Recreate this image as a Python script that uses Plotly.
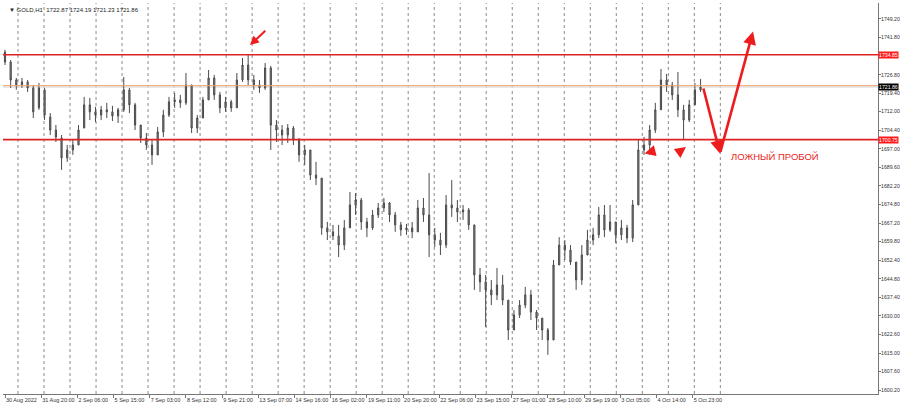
import plotly.graph_objects as go

# ---------------- data (GOLD, H1, one candle = 5 hourly bars) ----------------
open_ = [1735.9, 1731.9, 1724.7, 1722.7, 1723.9, 1721.5, 1713.5, 1720.7, 1709.8, 1704.6,
         1701.4, 1693.4, 1696.6, 1698.6, 1705.4, 1714.7, 1711.9, 1710.6, 1712.7, 1711.9,
         1710.2, 1712.7, 1720.7, 1714.7, 1706.6, 1701.4, 1698.6, 1694.6, 1703.8, 1710.6,
         1715.9, 1716.7, 1715.5, 1722.7, 1705.4, 1709.4, 1716.7, 1725.5, 1718.7, 1713.5,
         1715.9, 1713.5, 1724.7, 1730.7, 1724.7, 1722.7, 1721.5, 1729.5, 1706.6, 1704.6,
         1702.6, 1705.4, 1700.6, 1694.6, 1696.6, 1686.5, 1685.3, 1665.3, 1663.7, 1662.1,
         1658.4, 1665.3, 1674.5, 1676.5, 1667.7, 1665.3, 1670.5, 1673.3, 1675.3, 1670.5,
         1666.5, 1664.5, 1665.3, 1663.7, 1673.3, 1670.5, 1662.5, 1660.4, 1658.4, 1674.5,
         1673.3, 1671.7, 1672.5, 1666.5, 1646.4, 1643.6, 1640.4, 1638.4, 1642.4, 1636.3,
         1624.3, 1630.3, 1634.3, 1638.4, 1631.5, 1629.1, 1624.3, 1620.3, 1650.4, 1658.4,
         1656.4, 1651.6, 1644.4, 1654.4, 1660.4, 1662.5, 1670.5, 1664.5, 1667.7, 1662.5,
         1665.3, 1661.2, 1674.5, 1696.6, 1698.6, 1704.6, 1712.7, 1724.7, 1722.7, 1718.7,
         1712.7, 1708.6, 1714.7, 1720.7]
high = [1736.8, 1732.7, 1725.5, 1725.5, 1724.7, 1722.7, 1723.5, 1721.5, 1711.4, 1706.6,
        1702.6, 1698.6, 1700.6, 1706.6, 1717.9, 1717.5, 1713.9, 1714.3, 1715.5, 1714.3,
        1713.5, 1725.9, 1721.5, 1715.5, 1706.6, 1703.4, 1700.6, 1705.8, 1712.7, 1717.9,
        1719.5, 1718.7, 1727.5, 1722.7, 1710.6, 1717.9, 1728.7, 1726.7, 1719.9, 1717.9,
        1716.7, 1727.5, 1733.5, 1734.7, 1726.7, 1724.7, 1731.5, 1730.3, 1708.6, 1706.6,
        1707.0, 1706.2, 1701.4, 1698.6, 1696.6, 1691.8, 1685.3, 1667.7, 1666.5, 1666.5,
        1668.5, 1679.7, 1679.3, 1677.3, 1669.3, 1672.5, 1675.3, 1677.3, 1675.7, 1671.7,
        1667.7, 1666.9, 1667.7, 1676.5, 1677.3, 1687.3, 1665.3, 1663.3, 1678.5, 1684.5,
        1676.5, 1674.5, 1673.3, 1666.5, 1649.2, 1646.4, 1644.4, 1649.2, 1646.4, 1636.3,
        1632.3, 1636.3, 1641.6, 1640.4, 1632.3, 1629.1, 1625.1, 1652.4, 1661.6, 1660.4,
        1658.4, 1651.6, 1658.4, 1664.5, 1665.3, 1673.7, 1674.5, 1674.5, 1667.7, 1668.5,
        1666.5, 1676.5, 1700.6, 1701.8, 1706.6, 1715.5, 1729.1, 1727.1, 1723.9, 1727.9,
        1714.7, 1716.7, 1723.5, 1725.1]
low = [1730.7, 1721.5, 1720.7, 1721.5, 1719.9, 1709.4, 1712.7, 1708.6, 1702.6, 1699.8,
       1688.6, 1691.8, 1694.6, 1698.6, 1705.4, 1708.6, 1707.8, 1708.6, 1709.4, 1708.2,
       1707.4, 1711.9, 1711.4, 1704.6, 1699.4, 1696.6, 1690.6, 1694.6, 1701.8, 1709.8,
       1713.5, 1713.5, 1714.7, 1703.4, 1703.4, 1709.4, 1716.7, 1716.7, 1711.4, 1711.9,
       1711.9, 1713.5, 1723.9, 1722.7, 1720.7, 1719.5, 1720.7, 1696.6, 1699.8, 1698.6,
       1699.4, 1698.6, 1691.8, 1690.6, 1684.5, 1682.5, 1662.5, 1660.4, 1660.4, 1653.6,
       1656.4, 1665.3, 1670.5, 1664.5, 1661.6, 1664.5, 1669.3, 1671.7, 1667.7, 1663.7,
       1662.1, 1662.5, 1661.2, 1663.7, 1667.7, 1653.6, 1657.6, 1654.4, 1657.2, 1669.7,
       1667.7, 1668.5, 1664.5, 1640.4, 1639.6, 1625.5, 1634.3, 1636.3, 1634.3, 1620.3,
       1624.3, 1629.1, 1633.1, 1628.3, 1624.3, 1620.3, 1614.3, 1620.3, 1650.4, 1652.4,
       1650.4, 1640.4, 1642.4, 1654.4, 1658.4, 1661.2, 1661.6, 1663.7, 1659.2, 1660.4,
       1659.2, 1659.6, 1674.5, 1694.6, 1694.6, 1703.4, 1712.7, 1719.9, 1716.7, 1709.8,
       1700.6, 1707.8, 1714.7, 1719.9]
close = [1731.9, 1724.7, 1722.7, 1723.9, 1721.5, 1711.9, 1721.5, 1710.6, 1704.6, 1701.8,
         1693.4, 1696.6, 1698.6, 1704.6, 1714.7, 1711.9, 1710.6, 1712.7, 1711.9, 1710.2,
         1712.7, 1720.7, 1714.7, 1706.6, 1701.4, 1698.6, 1694.6, 1703.8, 1710.6, 1715.9,
         1716.7, 1715.5, 1722.7, 1705.4, 1709.4, 1716.7, 1725.5, 1718.7, 1713.5, 1715.9,
         1713.5, 1724.7, 1730.7, 1724.7, 1722.7, 1721.5, 1729.5, 1706.6, 1704.6, 1702.6,
         1705.4, 1700.6, 1694.6, 1696.6, 1686.5, 1685.3, 1665.3, 1663.7, 1662.1, 1658.4,
         1665.3, 1674.5, 1676.5, 1667.7, 1665.3, 1670.5, 1673.3, 1675.3, 1670.5, 1666.5,
         1664.5, 1665.3, 1663.7, 1673.3, 1670.5, 1662.5, 1660.4, 1658.4, 1674.5, 1673.3,
         1671.7, 1672.5, 1666.5, 1646.4, 1643.6, 1640.4, 1638.4, 1642.4, 1636.3, 1624.3,
         1630.3, 1634.3, 1638.4, 1631.5, 1629.1, 1624.3, 1620.3, 1650.4, 1658.4, 1656.4,
         1651.6, 1644.4, 1654.4, 1660.4, 1662.5, 1670.5, 1664.5, 1667.7, 1662.5, 1665.3,
         1661.2, 1674.5, 1696.6, 1698.6, 1704.6, 1712.7, 1724.7, 1722.7, 1718.7, 1712.7,
         1708.6, 1714.7, 1720.7, 1721.86]
bar_step = 5
bars = [i * bar_step for i in range(len(close))]

x_tick_bars = [0, 32, 64, 96, 128, 160, 192, 224, 256, 288, 320, 352, 384, 416,
               448, 480, 512, 544, 576, 608]
x_tick_labels = ["30 Aug 2022", "31 Aug 20:00", "2 Sep 06:00", "5 Sep 15:00", "7 Sep 03:00",
                 "8 Sep 12:00", "9 Sep 21:00", "13 Sep 07:00", "14 Sep 16:00", "16 Sep 02:00",
                 "19 Sep 11:00", "20 Sep 20:00", "22 Sep 06:00", "23 Sep 15:00", "27 Sep 01:00",
                 "28 Sep 10:00", "29 Sep 19:00", "3 Oct 05:00", "4 Oct 14:00", "5 Oct 23:00"]
day_start_bars = [11.5, 34.5, 57.5, 80.5, 103.5, 126.5, 149.5, 172.5, 195.5, 218.5,
                  241.5, 264.5, 287.5, 310.5, 333.5, 356.5, 379.5, 402.5, 425.5, 448.5,
                  471.5, 494.5, 517.5, 540.5, 563.5, 586.5, 609.5, 632.5]
# 1734.40 is hidden behind the red price label in the reference
y_tick_vals = [1749.20, 1741.80, 1726.80, 1719.40, 1712.00, 1704.40, 1697.00,
               1689.60, 1682.20, 1674.80, 1667.20, 1659.80, 1652.40, 1644.80, 1637.40,
               1630.00, 1622.60, 1615.00, 1607.60, 1600.20]
resistance = 1734.85
support = 1700.75
pivot = 1722.40
last_price = 1721.86
title_text = "GOLD,H1  1722.87 1724.19 1721.23 1721.86"
note_text = "ЛОЖНЫЙ ПРОБОЙ"

FONT = "Liberation Sans, Arial, sans-serif"
RED = "#ee1c1c"

fig = go.Figure()
fig.add_trace(go.Candlestick(
    x=bars, open=open_, high=high, low=low, close=close,
    increasing=dict(line=dict(color="#4a4a4a", width=1), fillcolor="#8a8a8a"),
    decreasing=dict(line=dict(color="#4a4a4a", width=1), fillcolor="#8a8a8a"),
    whiskerwidth=0, showlegend=False, hoverinfo="skip",
))

shapes = []
for b in day_start_bars:
    shapes.append(dict(type="line", xref="x", yref="paper", x0=b, x1=b, y0=0, y1=1,
                       line=dict(color="#8a8a8a", width=1, dash="dot"), layer="below"))
shapes.append(dict(type="line", xref="paper", yref="y", x0=0, x1=1, y0=last_price, y1=last_price,
                   line=dict(color="#e2e2e2", width=1.5), layer="below"))
shapes.append(dict(type="line", xref="paper", yref="y", x0=0, x1=1, y0=pivot, y1=pivot,
                   line=dict(color="#f0a070", width=1)))
for lv in (resistance, support):
    shapes.append(dict(type="line", xref="paper", yref="y", x0=0, x1=1, y0=lv, y1=lv,
                       line=dict(color="#dd2222", width=1.6)))

annotations = []
# price labels on the right axis
for lv, bg in ((resistance, "#ff1a1a"), (last_price, "#000000"), (support, "#ff1a1a")):
    annotations.append(dict(xref="paper", yref="y", x=1, y=lv, xanchor="left", yanchor="middle",
                            xshift=0, text=f"{lv:.2f}", showarrow=False, bgcolor=bg,
                            font=dict(family=FONT, size=5.2, color="white"), borderpad=0))
# title
annotations.append(dict(xref="paper", yref="paper", x=0.004, y=0.995, xanchor="left", yanchor="top",
                        text="▼ " + title_text, showarrow=False,
                        font=dict(family=FONT, size=6, color="#222")))
# red arrows
arrow_style = dict(showarrow=True, arrowcolor=RED, arrowwidth=2.6, arrowhead=2, arrowsize=1,
                   axref="x", ayref="y", text="")
annotations.append(dict(x=632.2, y=1695.2, ax=617.2, ay=last_price, **arrow_style))
annotations.append(dict(x=661.4, y=1744.2, ax=632.2, ay=1695.2, **arrow_style))
annotations.append(dict(x=216.6, y=1738.7, ax=231.5, ay=1745.0,
                        **{**arrow_style, "arrowwidth": 2, "arrowsize": 0.9}))
annotations.append(dict(x=565.5, y=1695.2, ax=574.0, ay=1696.2,
                        **{**arrow_style, "arrowwidth": 2, "arrowsize": 1.1}))
annotations.append(dict(x=602.1, y=1697.8, ax=595.0, ay=1695.4,
                        **{**arrow_style, "arrowwidth": 2, "arrowsize": 1.1}))
annotations.append(dict(x=640.5, y=1693.8, xanchor="left", yanchor="middle", text=note_text,
                        showarrow=False, font=dict(family=FONT, size=9.5, color=RED)))

fig.update_layout(
    width=900, height=407,
    margin=dict(l=3, r=22, t=3, b=13, autoexpand=False),
    paper_bgcolor="white", plot_bgcolor="white",
    boxgap=0.7,
    shapes=shapes, annotations=annotations,
    xaxis=dict(range=[-1.77, 771.9], rangeslider=dict(visible=False), showgrid=False,
               zeroline=False, tickmode="array", tickvals=x_tick_bars, ticktext=x_tick_labels,
               tickangle=0, ticks="outside", ticklen=3, tickcolor="#777", showline=True,
               linecolor="#777", ticklabelposition="outside right", automargin=False,
               tickfont=dict(family=FONT, size=5.5, color="#333")),
    yaxis=dict(range=[1598.6, 1755.6], side="right", showgrid=False, zeroline=False,
               tickmode="array", tickvals=y_tick_vals, automargin=False,
               ticktext=[f"{v:.2f}" for v in y_tick_vals],
               ticks="outside", ticklen=2, tickcolor="#777", showline=True, linecolor="#777",
               ticklabelstandoff=-1,
               tickfont=dict(family=FONT, size=5.2, color="#333")),
)

fig.write_html("out.html", config={"displayModeBar": False},
               post_script="document.body.style.margin='0';")
